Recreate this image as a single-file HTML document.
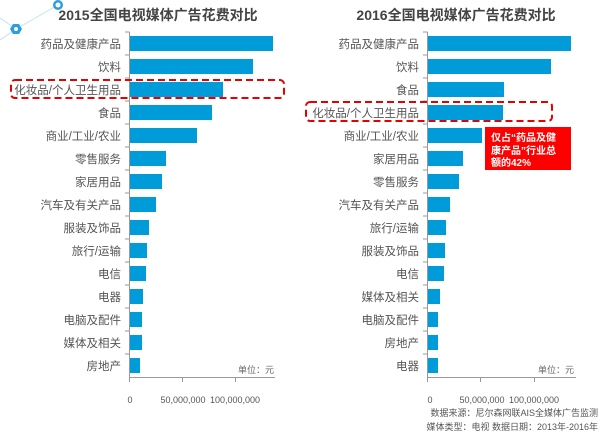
<!DOCTYPE html>
<html><head><meta charset="utf-8"><style>
html,body{margin:0;padding:0;background:#fff;width:604px;height:436px;overflow:hidden}
svg{display:block;font-family:"Liberation Sans","Noto Sans CJK SC",sans-serif}
</style></head><body>
<svg width="604" height="436" viewBox="0 0 604 436" xmlns="http://www.w3.org/2000/svg">
<g stroke="#bfe3f5" stroke-width="1" fill="none">
<line x1="0" y1="18" x2="16" y2="29"/><line x1="16" y1="29" x2="58" y2="5"/><line x1="0" y1="40" x2="16" y2="29"/>
</g>
<circle cx="58" cy="5" r="5" fill="#2a9ee0"/><circle cx="58" cy="5" r="2.5" fill="#fff"/>
<polygon points="10,29 13,24 19,24 22,29 19,34 13,34" fill="#2a9ee0"/><circle cx="16" cy="29" r="2" fill="#fff"/>
<g font-size="14" font-weight="bold" fill="#444" text-anchor="middle">
<text x="158" y="20">2015全国电视媒体广告花费对比</text>
<text x="456" y="20">2016全国电视媒体广告花费对比</text>
</g>
<g fill="#009cd9">
<rect x="130" y="36" width="143" height="15"/><rect x="130" y="59" width="123" height="15"/><rect x="130" y="82" width="93" height="15"/><rect x="130" y="105" width="82" height="15"/><rect x="130" y="128" width="67" height="15"/><rect x="130" y="151" width="36" height="15"/><rect x="130" y="174" width="32" height="15"/><rect x="130" y="197" width="26" height="15"/><rect x="130" y="220" width="19" height="15"/><rect x="130" y="243" width="17" height="15"/><rect x="130" y="266" width="16" height="15"/><rect x="130" y="289" width="13" height="15"/><rect x="130" y="312" width="12" height="15"/><rect x="130" y="335" width="12" height="15"/><rect x="130" y="358" width="10" height="15"/>
<rect x="428" y="36" width="143" height="15"/><rect x="428" y="59" width="123" height="15"/><rect x="428" y="82" width="76" height="15"/><rect x="428" y="105" width="75" height="15"/><rect x="428" y="128" width="54" height="15"/><rect x="428" y="151" width="35" height="15"/><rect x="428" y="174" width="31" height="15"/><rect x="428" y="197" width="22" height="15"/><rect x="428" y="220" width="18" height="15"/><rect x="428" y="243" width="17" height="15"/><rect x="428" y="266" width="16" height="15"/><rect x="428" y="289" width="12" height="15"/><rect x="428" y="312" width="10" height="15"/><rect x="428" y="335" width="10" height="15"/><rect x="428" y="358" width="10" height="15"/>
</g>
<g stroke="#999" stroke-width="1" fill="none">
<path d="M129.5 32V377.5H275M125 32H129.5M125 55H129.5M125 78H129.5M125 101H129.5M125 124H129.5M125 147H129.5M125 170H129.5M125 193H129.5M125 216H129.5M125 239H129.5M125 262H129.5M125 285H129.5M125 308H129.5M125 331H129.5M125 354H129.5M129.5 377V382M182.5 377V382M235.5 377V382"/>
<path d="M427.5 32V377.5H576M423 32H427.5M423 55H427.5M423 78H427.5M423 101H427.5M423 124H427.5M423 147H427.5M423 170H427.5M423 193H427.5M423 216H427.5M423 239H427.5M423 262H427.5M423 285H427.5M423 308H427.5M423 331H427.5M423 354H427.5M427.5 377V382M480.5 377V382M534.5 377V382"/>
</g>
<g font-size="11.5" fill="#555" text-anchor="end">
<text x="121" y="48">药品及健康产品</text><text x="121" y="71">饮料</text><text x="121" y="94">化妆品/个人卫生用品</text><text x="121" y="117">食品</text><text x="121" y="140">商业/工业/农业</text><text x="121" y="163">零售服务</text><text x="121" y="186">家居用品</text><text x="121" y="209">汽车及有关产品</text><text x="121" y="232">服装及饰品</text><text x="121" y="255">旅行/运输</text><text x="121" y="278">电信</text><text x="121" y="301">电器</text><text x="121" y="324">电脑及配件</text><text x="121" y="347">媒体及相关</text><text x="121" y="370">房地产</text>
<text x="419" y="48">药品及健康产品</text><text x="419" y="71">饮料</text><text x="419" y="94">食品</text><text x="419" y="117">化妆品/个人卫生用品</text><text x="419" y="140">商业/工业/农业</text><text x="419" y="163">家居用品</text><text x="419" y="186">零售服务</text><text x="419" y="209">汽车及有关产品</text><text x="419" y="232">旅行/运输</text><text x="419" y="255">服装及饰品</text><text x="419" y="278">电信</text><text x="419" y="301">媒体及相关</text><text x="419" y="324">电脑及配件</text><text x="419" y="347">房地产</text><text x="419" y="370">电器</text>
</g>
<g font-size="9" fill="#666" text-anchor="end"><text x="274" y="373">单位：元</text><text x="574" y="373">单位：元</text></g>
<g font-size="9" fill="#555" text-anchor="middle">
<text x="130" y="403">0</text><text x="183" y="403">50,000,000</text><text x="235" y="403">100,000,000</text>
<text x="430" y="403">0</text><text x="482" y="403">50,000,000</text><text x="534" y="403">100,000,000</text>
</g>
<g font-size="9" fill="#555" text-anchor="end"><text x="598" y="416">数据来源：尼尔森网联AIS全媒体广告监测</text><text x="598" y="430">媒体类型：电视  数据日期：2013年-2016年</text></g>
<g stroke="#e60000" stroke-width="2" stroke-dasharray="7,4" fill="none">
<rect x="11" y="80" width="273" height="18" rx="4"/><rect x="306" y="102" width="246" height="19" rx="4"/>
</g>
<rect x="485" y="127" width="86" height="43" fill="#ff0000"/>
<g font-size="10" font-weight="bold" fill="#fff"><text x="491" y="141">仅占“药品及健</text><text x="491" y="154">康产品”行业总</text><text x="491" y="166">额的42%</text></g>
</svg>
</body></html>
